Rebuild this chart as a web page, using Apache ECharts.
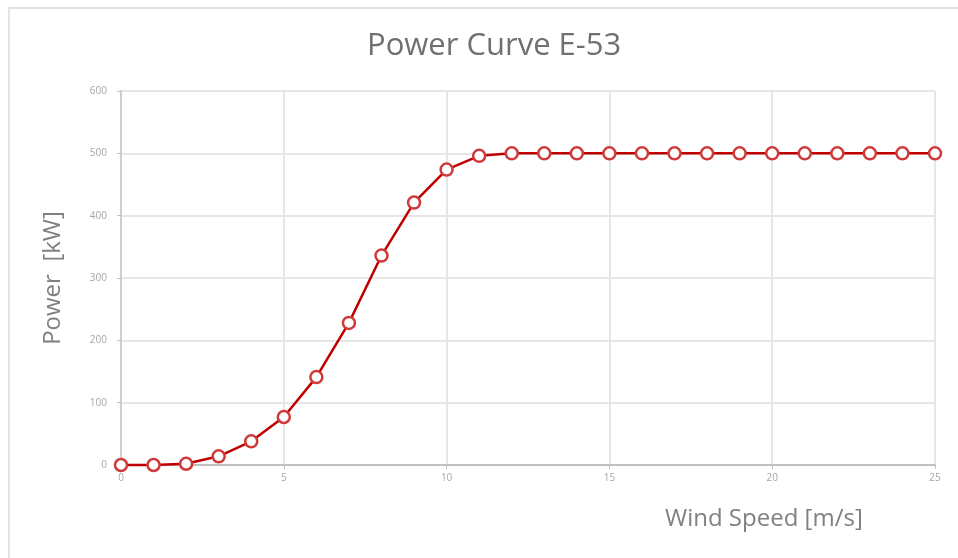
<!DOCTYPE html>
<html><head><meta charset="utf-8">
<script src="https://cdn.jsdelivr.net/npm/echarts@6/dist/echarts.min.js"></script>
<style>html,body{margin:0;padding:0;background:#fff}#c{width:958px;height:558px}</style>
</head><body><div id="c"></div>
<script>
const windSpeed = [0,1,2,3,4,5,6,7,8,9,10,11,12,13,14,15,16,17,18,19,20,21,22,23,24,25];
const powerKW = [0,0,2,14,38,77,141,228,336,421,474,496,500,500,500,500,500,500,500,500,500,500,500,500,500,500];
const titleText = 'Power Curve E-53';
const xName = 'Wind Speed [m/s]';
const yName = 'Power  [kW]';

const chart = echarts.init(document.getElementById('c'), null, {renderer:'canvas'});
chart.setOption({
  animation:false,
  backgroundColor:'#fff',
  title:{text:titleText,left:362,top:26,
    textStyle:{fontFamily:'Open Sans',fontWeight:'normal',fontSize:31,color:'#707070'}},
  graphic:[
    {type:'rect',shape:{x:9,y:8,width:1000,height:600},style:{fill:'none',stroke:'#e3e3e3',lineWidth:2},silent:true,z:-1},
    {type:'text',left:665,top:507,style:{text:xName,font:'24px "Open Sans"',fill:'#808080'}},
  ],
  grid:{left:121,right:23,top:91,bottom:93},
  xAxis:{type:'value',min:0,max:25,interval:5,
    axisLine:{lineStyle:{color:'#bfbfbf',width:2}},
    axisTick:{show:true,length:4,lineStyle:{color:'#bfbfbf'}},
    axisLabel:{fontFamily:'Open Sans',fontSize:10,color:'#a6a6a6',margin:8},
    splitLine:{lineStyle:{color:'#e6e6e6',width:2}}},
  yAxis:{type:'value',min:0,max:600,interval:100,
    name:yName,nameLocation:'middle',nameGap:56,
    nameTextStyle:{fontFamily:'Open Sans',fontSize:24,color:'#808080'},
    axisLine:{show:true,lineStyle:{color:'#cfcfcf',width:2}},
    axisTick:{show:true,length:4,lineStyle:{color:'#bfbfbf'}},
    axisLabel:{fontFamily:'Open Sans',fontSize:10,color:'#a6a6a6',margin:14},
    splitLine:{lineStyle:{color:'#e6e6e6',width:2}}},
  series:[{type:'line',data:windSpeed.map((x,i)=>[x,powerKW[i]]),
    symbol:'circle',symbolSize:12,showAllSymbol:true,
    lineStyle:{color:'#c00000',width:2.5},
    itemStyle:{color:'#ffffff',borderColor:'#d03a3a',borderWidth:2.5},
    clip:false}]
});
</script></body></html>
